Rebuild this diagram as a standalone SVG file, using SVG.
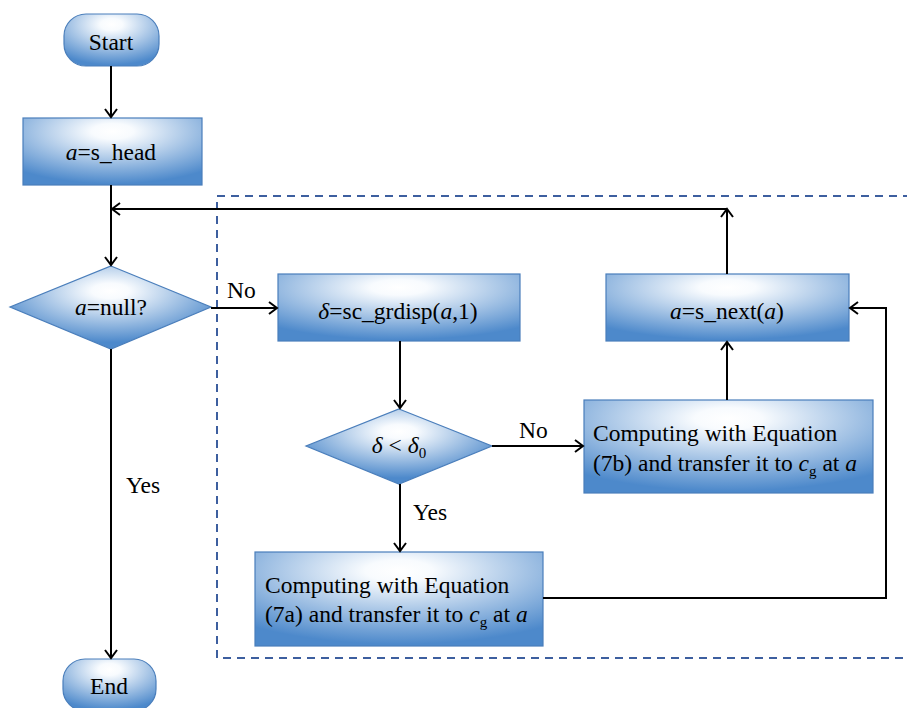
<svg xmlns="http://www.w3.org/2000/svg" width="907" height="708" viewBox="0 0 907 708">
<style>
.n{stroke:#4a7ebb;stroke-width:1.2}
.t{font-family:'Liberation Serif','Times New Roman',serif;font-size:23.5px;fill:#000}
.c{text-anchor:middle}
.e{stroke:#000;stroke-width:2;fill:none}
.i{font-style:italic}
.s{font-size:15px}
</style>
<defs>
<radialGradient id="g" cx="0.5" cy="0.2" r="0.78" fx="0.5" fy="0.2">
<stop offset="0" stop-color="#ffffff"/>
<stop offset="0.15" stop-color="#f8fbfe"/>
<stop offset="1" stop-color="#4d89cb"/>
</radialGradient>
<radialGradient id="gd" cx="0.5" cy="0.3" r="0.62" fx="0.5" fy="0.3">
<stop offset="0" stop-color="#ffffff"/>
<stop offset="0.15" stop-color="#f8fbfe"/>
<stop offset="1" stop-color="#4d89cb"/>
</radialGradient>
<marker id="a" markerWidth="14" markerHeight="14" refX="11" refY="7" orient="auto" markerUnits="userSpaceOnUse">
<path d="M3,1 L11,7 L3,13" fill="none" stroke="#000" stroke-width="2"/>
</marker>
</defs>
<rect x="217" y="196" width="700" height="462" fill="none" stroke="#3d5f9f" stroke-width="2" stroke-dasharray="8,6"/>
<g id="start"><rect class="n" x="64" y="14" width="95" height="52" rx="22" fill="url(#g)"/><text class="t c" x="111" y="50">Start</text></g>
<g id="head"><rect class="n" x="23" y="118" width="179" height="67" fill="url(#g)"/><text class="t c" x="111" y="160"><tspan class="i">a</tspan>=s_head</text></g>
<g id="isnull"><polygon class="n" points="111,266 211,307 111,349 10,307" fill="url(#gd)"/><text class="t c" x="111" y="315"><tspan class="i">a</tspan>=null?</text></g>
<g id="grdisp"><rect class="n" x="278" y="274" width="242" height="67" fill="url(#g)"/><text class="t c" x="398" y="319"><tspan class="i">δ</tspan>=sc_grdisp(<tspan class="i">a</tspan>,1)</text></g>
<g id="cmp"><polygon class="n" points="399,409 492,446 399,484 306,446" fill="url(#gd)"/><text class="t c" x="399" y="453"><tspan class="i">δ</tspan> &lt; <tspan class="i">δ</tspan><tspan class="s" dy="5">0</tspan></text></g>
<g id="next"><rect class="n" x="606" y="274" width="243" height="67" fill="url(#g)"/><text class="t c" x="727" y="319"><tspan class="i">a</tspan>=s_next(<tspan class="i">a</tspan>)</text></g>
<g id="eq7b"><rect class="n" x="584" y="400" width="289" height="93" fill="url(#g)"/><text class="t" x="593" y="441">Computing with Equation</text><text class="t" x="593" y="471">(7b) and transfer it to <tspan class="i">c</tspan><tspan class="s" dy="5">g</tspan><tspan dy="-5"> at </tspan><tspan class="i">a</tspan></text></g>
<g id="eq7a"><rect class="n" x="255" y="552" width="288" height="94" fill="url(#g)"/><text class="t" x="265" y="593">Computing with Equation</text><text class="t" x="265" y="622">(7a) and transfer it to <tspan class="i">c</tspan><tspan class="s" dy="5">g</tspan><tspan dy="-5"> at </tspan><tspan class="i">a</tspan></text></g>
<g id="end"><rect class="n" x="63" y="659" width="93" height="52" rx="22" fill="url(#g)"/><text class="t c" x="109" y="694">End</text></g>
<g id="connectors">
<line class="e" x1="111" y1="66" x2="111" y2="117" marker-end="url(#a)"/>
<line class="e" x1="111" y1="185" x2="111" y2="265" marker-end="url(#a)"/>
<line class="e" x1="727" y1="274" x2="727" y2="209" marker-end="url(#a)"/>
<line class="e" x1="727" y1="209" x2="112" y2="209" marker-end="url(#a)"/>
<line class="e" x1="211" y1="308" x2="277" y2="308" marker-end="url(#a)"/>
<line class="e" x1="400" y1="341" x2="400" y2="408" marker-end="url(#a)"/>
<line class="e" x1="492" y1="446" x2="583" y2="446" marker-end="url(#a)"/>
<line class="e" x1="727" y1="400" x2="727" y2="342" marker-end="url(#a)"/>
<line class="e" x1="400" y1="484" x2="400" y2="551" marker-end="url(#a)"/>
<polyline class="e" points="543,598 886,598 886,308 850,308" marker-end="url(#a)"/>
<line class="e" x1="111" y1="349" x2="111" y2="658" marker-end="url(#a)"/>
<text class="t" x="227" y="298">No</text>
<text class="t" x="519" y="438">No</text>
<text class="t" x="413" y="520">Yes</text>
<text class="t" x="126" y="493">Yes</text>
</g>
</svg>
